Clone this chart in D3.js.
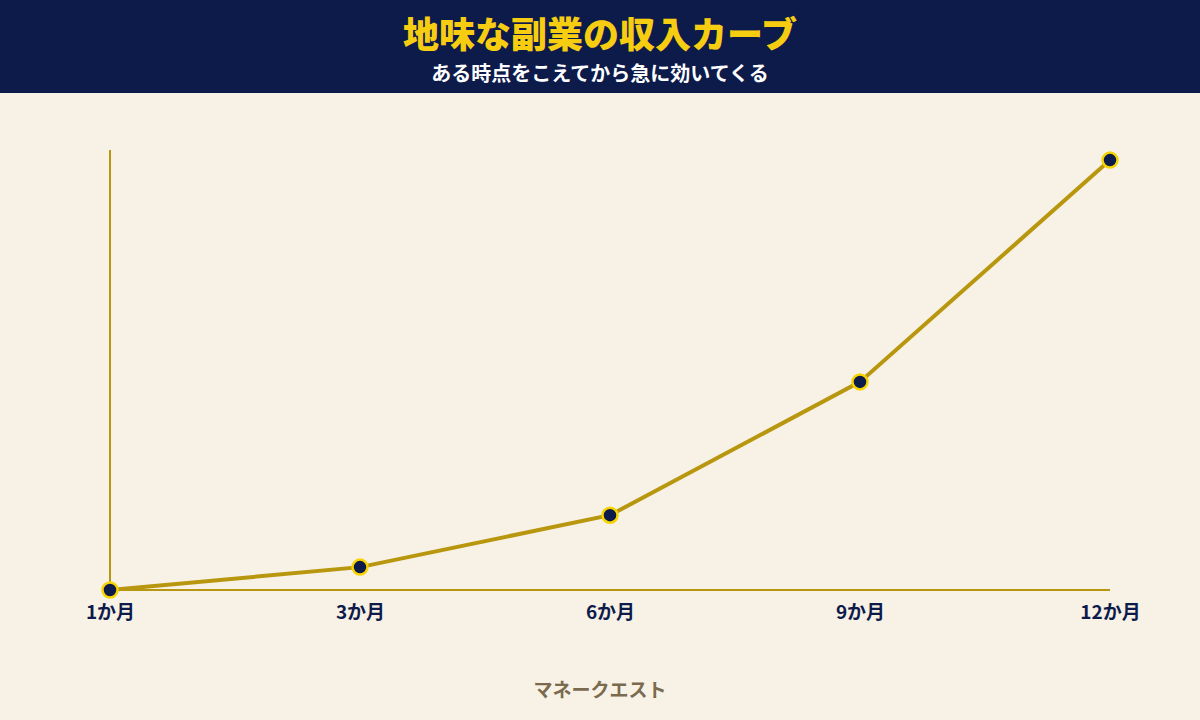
<!DOCTYPE html><html><head><meta charset="utf-8">
<script src="https://cdn.jsdelivr.net/npm/d3@7"></script>
<style>body{margin:0;background:#f8f2e6}svg{display:block}</style></head><body>
<svg id="c" width="1200" height="720"></svg>
<script>
const categories=["1か月","3か月","6か月","9か月","12か月"];
const income=[0,5.2,17,47.3,97.7];
const title="地味な副業の収入カーブ";
const subtitle="ある時点をこえてから急に効いてくる";
const source="マネークエスト";
const svg=d3.select("#c");
const F="'Noto Sans CJK JP','Noto Sans',sans-serif";
svg.append("rect").attr("width",1200).attr("height",720).attr("fill","#f8f2e6");
svg.append("rect").attr("width",1200).attr("height",93).attr("fill","#0d1b4b");
svg.append("text").attr("x",600).attr("y",48).attr("text-anchor","middle").attr("font-family",F).attr("font-weight",900).attr("font-size",36).attr("fill","#f7cd12").text(title);
svg.append("text").attr("x",600).attr("y",81).attr("text-anchor","middle").attr("font-family",F).attr("font-weight",700).attr("font-size",20).attr("fill","#ffffff").text(subtitle);
const x=d3.scalePoint().domain(categories).range([110,1110]);
const y=d3.scaleLinear().domain([0,100]).range([590,150]);
svg.append("line").attr("x1",110).attr("x2",110).attr("y1",150).attr("y2",590).attr("stroke","#b8970f").attr("stroke-width",2);
svg.append("line").attr("x1",110).attr("x2",1110).attr("y1",590).attr("y2",590).attr("stroke","#b8970f").attr("stroke-width",2);
const ax=svg.append("g").attr("transform","translate(0,590)").call(d3.axisBottom(x).tickSize(0).tickPadding(16));
ax.select(".domain").remove();
ax.selectAll("text").attr("font-family",F).attr("font-weight",700).attr("font-size",19).attr("fill","#0d1b4b");
svg.append("path").datum(income).attr("fill","none").attr("stroke","#b8970f").attr("stroke-width",4)
 .attr("d",d3.line().x((d,i)=>x(categories[i])).y(d=>y(d)));
svg.selectAll("circle.p").data(income).join("circle").attr("cx",(d,i)=>x(categories[i])).attr("cy",d=>y(d)).attr("r",7.5)
 .attr("fill","#0d1b4b").attr("stroke","#f7d400").attr("stroke-width",2.5);
svg.append("text").attr("x",600).attr("y",697).attr("text-anchor","middle").attr("font-family",F).attr("font-weight",700).attr("font-size",19).attr("fill","#7a6a4f").text(source);
</script></body></html>
